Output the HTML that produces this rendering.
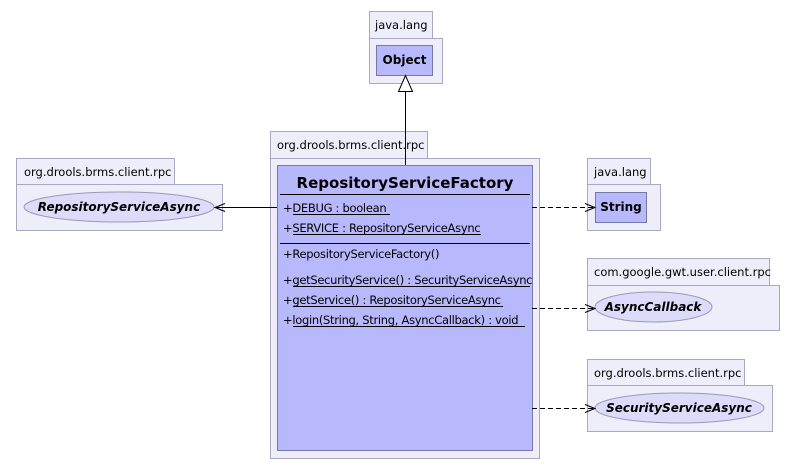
<!DOCTYPE html>
<html><head><meta charset="utf-8"><style>
html,body{margin:0;padding:0;background:#fff;}
svg{display:block;}
text{font-family:"DejaVu Sans","Liberation Sans",sans-serif;fill:#000;}
</style></head><body>
<svg width="798" height="470" viewBox="0 0 798 470" xmlns="http://www.w3.org/2000/svg">
<g fill="#eeeefa" stroke="#a8a8c0" stroke-width="1">
<rect x="369.5" y="11.5" width="63" height="27"/>
<rect x="369.5" y="38.5" width="73" height="45"/>
<rect x="270.5" y="131.5" width="157" height="27"/>
<rect x="270.5" y="158.5" width="269" height="300"/>
<rect x="16.5" y="158.5" width="158" height="26"/>
<rect x="16.5" y="184.5" width="206" height="46"/>
<rect x="587.5" y="158.5" width="63" height="26"/>
<rect x="587.5" y="184.5" width="73" height="46"/>
<rect x="587.5" y="258.5" width="182" height="27"/>
<rect x="587.5" y="285.5" width="192" height="45"/>
<rect x="587.5" y="359.5" width="157" height="26"/>
<rect x="587.5" y="385.5" width="185" height="46"/>
</g>
<g font-size="11.5">
<text x="375" y="29">java.lang</text>
<text x="277" y="149">org.drools.brms.client.rpc</text>
<text x="24" y="176">org.drools.brms.client.rpc</text>
<text x="594" y="176">java.lang</text>
<text x="594" y="276">com.google.gwt.user.client.rpc</text>
<text x="594" y="377">org.drools.brms.client.rpc</text>
</g>
<g fill="#b8b8fc" stroke="#7878a8">
<rect x="376.5" y="45.5" width="56" height="30"/>
<rect x="595.5" y="192.5" width="51" height="30"/>
<rect x="277.5" y="165.5" width="255" height="285"/>
</g>
<g fill="#dcdcfa" stroke="#9a9ab8">
<ellipse cx="119" cy="207" rx="95" ry="15"/>
<ellipse cx="653.5" cy="307" rx="58.5" ry="15"/>
<ellipse cx="679.5" cy="408" rx="84.5" ry="15"/>
</g>
<g font-weight="bold" font-size="12">
<text x="404.5" y="64" text-anchor="middle">Object</text>
<text x="621" y="211" text-anchor="middle">String</text>
</g>
<g font-weight="bold" font-style="italic" font-size="12">
<text x="119" y="211" text-anchor="middle">RepositoryServiceAsync</text>
<text x="653" y="311" text-anchor="middle">AsyncCallback</text>
<text x="679" y="412" text-anchor="middle">SecurityServiceAsync</text>
</g>
<text x="405" y="188" text-anchor="middle" font-weight="bold" font-size="15">RepositoryServiceFactory</text>
<g stroke="#000" stroke-width="1">
<line x1="280" y1="194.5" x2="530" y2="194.5"/>
<line x1="280" y1="243.5" x2="530" y2="243.5"/>
<line x1="293" y1="214.5" x2="390" y2="214.5"/>
<line x1="293" y1="234.5" x2="481" y2="234.5"/>
<line x1="293" y1="286.5" x2="530" y2="286.5"/>
<line x1="293" y1="306.5" x2="503" y2="306.5"/>
<line x1="293" y1="326.5" x2="525" y2="326.5"/>
</g>
<g font-size="11.5" letter-spacing="-0.3">
<text x="283" y="212">+DEBUG : boolean</text>
<text x="283" y="232">+SERVICE : RepositoryServiceAsync</text>
<text x="283" y="258">+RepositoryServiceFactory()</text>
<text x="283" y="284">+getSecurityService() : SecurityServiceAsync</text>
<text x="283" y="304">+getService() : RepositoryServiceAsync</text>
<text x="283" y="324">+login(String, String, AsyncCallback) : void</text>
</g>
<g stroke="#000" stroke-width="1" fill="none">
<line x1="405.5" y1="165" x2="405.5" y2="91"/>
<polygon points="405.5,75.5 398.5,91.5 412.5,91.5" fill="#fff"/>
<line x1="277" y1="207.5" x2="215" y2="207.5"/>
<polyline points="225,203.5 215,207.5 225,211.5"/>
<line x1="532" y1="207.5" x2="595" y2="207.5" stroke-dasharray="5,3"/>
<polyline points="585,203.5 595,207.5 585,211.5"/>
<line x1="532" y1="308.5" x2="595" y2="308.5" stroke-dasharray="5,3"/>
<polyline points="585,304.5 595,308.5 585,312.5"/>
<line x1="532" y1="408.5" x2="595" y2="408.5" stroke-dasharray="5,3"/>
<polyline points="585,404.5 595,408.5 585,412.5"/>
</g>
</svg>
</body></html>
